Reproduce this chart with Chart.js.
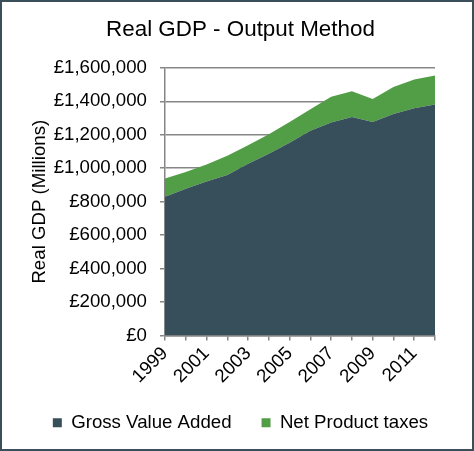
<!DOCTYPE html>
<html>
<head>
<meta charset="utf-8">
<script src="https://cdn.jsdelivr.net/npm/chart.js@4"></script>
<style>
  body { margin: 0; background: #fff; }
  #wrap { width: 474px; height: 451px; box-sizing: border-box; border: 2px solid #3a4f5a; }
  canvas { display: block; }
</style>
</head>
<body>
<div id="wrap"><canvas id="gdp-chart" width="470" height="447"></canvas></div>
<script>
const years = ['1999', '2000', '2001', '2002', '2003', '2004', '2005', '2006', '2007', '2008', '2009', '2010', '2011', '2012'];
const grossValueAdded = [829000, 878000, 921000, 960000, 1027000, 1086000, 1152000, 1224000, 1274000, 1306000, 1276000, 1325000, 1359000, 1381000];
const netProductTaxes = [110000, 100000, 101000, 115000, 110000, 117000, 124000, 128000, 153000, 154000, 138000, 161000, 172000, 174000];
const yMax = 1600000;
const yStep = 200000;

const FONT = 'Liberation Sans, Arial, sans-serif';
const GRID = '#868686';

function pounds(v) {
  return '£' + String(v).replace(/\B(?=(\d{3})+(?!\d))/g, ',');
}

new Chart(document.getElementById('gdp-chart'), {
  type: 'line',
  data: {
    labels: years,
    datasets: [{
      label: 'Gross Value Added',
      data: grossValueAdded,
      backgroundColor: '#374f5a',
      borderWidth: 0,
      pointRadius: 0,
      fill: 'origin',
    }, {
      label: 'Net Product taxes',
      data: netProductTaxes,
      backgroundColor: '#529e46',
      borderWidth: 0,
      pointRadius: 0,
      fill: '-1',
    }]
  },
  options: {
    responsive: false,
    animation: false,
    layout: { padding: { left: 7, right: 0, top: 0, bottom: 7 } },
    plugins: {
      title: {
        display: true,
        text: 'Real GDP - Output Method',
        color: '#000',
        font: { family: FONT, size: 22.4, weight: 'normal' },
        padding: { top: 14, bottom: 25 },
      },
      legend: {
        position: 'bottom',
        labels: {
          color: '#000',
          font: { family: FONT, size: 18.67 },
          boxWidth: 9,
          boxHeight: 9,
          padding: 30,
        }
      },
      tooltip: { enabled: false },
    },
    scales: {
      x: {
        grid: { drawOnChartArea: false, drawTicks: true, tickLength: 5, color: GRID, lineWidth: 1.5 },
        border: { color: GRID, width: 1.5 },
        ticks: {
          autoSkip: false,
          minRotation: 45,
          maxRotation: 45,
          padding: 2,
          color: '#000',
          font: { family: FONT, size: 18.67 },
          callback: (v, i) => (i % 2 === 0 ? years[i] : ''),
        },
        afterFit: s => { s.height = 47.8; },
      },
      y: {
        stacked: true,
        min: 0,
        max: yMax,
        grid: { color: GRID, lineWidth: 1.5, tickLength: 5 },
        border: { color: GRID, width: 1.5 },
        ticks: {
          stepSize: yStep,
          padding: 13,
          color: '#000',
          font: { family: FONT, size: 18.67 },
          callback: v => pounds(v),
        },
        title: {
          display: true,
          text: 'Real GDP (Millions)',
          color: '#000',
          font: { family: FONT, size: 18.67 },
          padding: { top: 19.5, bottom: 0 },
        },
        afterFit: s => { s.width = 156; },
      },
      // empty right axis, only reserves the space right of the plot
      yRight: {
        position: 'right',
        display: true,
        grid: { display: false },
        border: { display: false },
        ticks: { display: false },
        afterFit: s => { s.width = 37; },
      },
    },
  }
});
</script>
</body>
</html>
